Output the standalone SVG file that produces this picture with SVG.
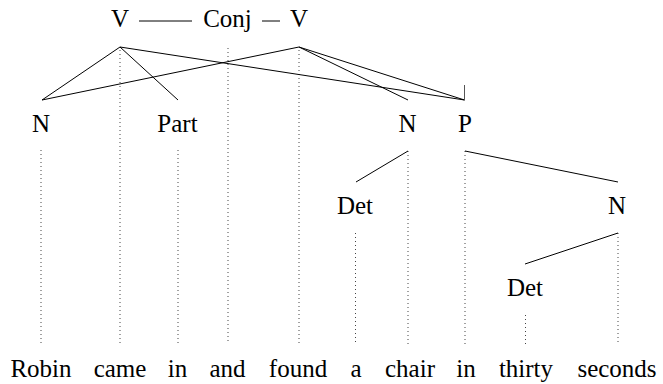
<svg xmlns="http://www.w3.org/2000/svg" width="663" height="384" viewBox="0 0 663 384">
<rect width="663" height="384" fill="#fff"/>
<g id="guides" stroke="#444" stroke-width="1" stroke-dasharray="1 3" fill="none">
<line x1="41" y1="150" x2="41" y2="344"/>
<line x1="120" y1="50" x2="120" y2="344"/>
<line x1="178" y1="150" x2="178" y2="344"/>
<line x1="228" y1="48" x2="228" y2="344"/>
<line x1="299" y1="50" x2="299" y2="344"/>
<line x1="355.5" y1="233" x2="355.5" y2="344"/>
<line x1="408" y1="151" x2="408" y2="344"/>
<line x1="465" y1="151" x2="465" y2="344"/>
<line x1="525.5" y1="315" x2="525.5" y2="344"/>
<line x1="618" y1="233" x2="618" y2="344"/>
</g>
<g id="connectors" stroke="#000" stroke-width="1" fill="none">
<line x1="139" y1="21" x2="192" y2="21"/>
<line x1="262" y1="21" x2="280" y2="21"/>
<line x1="120" y1="47" x2="42" y2="100"/>
<line x1="120" y1="47" x2="178" y2="100"/>
<line x1="120" y1="47" x2="464.5" y2="100"/>
<line x1="299" y1="47" x2="42" y2="100"/>
<line x1="299" y1="47" x2="408" y2="100"/>
<line x1="299" y1="47" x2="464.5" y2="100"/>
<line x1="464.5" y1="85" x2="464.5" y2="100" stroke="#555"/>
<line x1="408" y1="151" x2="356" y2="182"/>
<line x1="465" y1="151" x2="618" y2="182"/>
<line x1="618" y1="233" x2="525" y2="264"/>
</g>
<g id="node-V1"><text font-family="Liberation Serif" font-size="25" text-anchor="middle" x="120" y="27">V</text></g>
<g id="node-Conj"><text font-family="Liberation Serif" font-size="25" text-anchor="middle" x="227.5" y="27">Conj</text></g>
<g id="node-V2"><text font-family="Liberation Serif" font-size="25" text-anchor="middle" x="299" y="27">V</text></g>
<g id="node-N1"><text font-family="Liberation Serif" font-size="25" text-anchor="middle" x="41" y="132">N</text></g>
<g id="node-Part"><text font-family="Liberation Serif" font-size="25" text-anchor="middle" x="177.5" y="132">Part</text></g>
<g id="node-N2"><text font-family="Liberation Serif" font-size="25" text-anchor="middle" x="407.5" y="132">N</text></g>
<g id="node-P"><text font-family="Liberation Serif" font-size="25" text-anchor="middle" x="465" y="132">P</text></g>
<g id="node-Det1"><text font-family="Liberation Serif" font-size="25" text-anchor="middle" x="355" y="214">Det</text></g>
<g id="node-N3"><text font-family="Liberation Serif" font-size="25" text-anchor="middle" x="617" y="214">N</text></g>
<g id="node-Det2"><text font-family="Liberation Serif" font-size="25" text-anchor="middle" x="525" y="296">Det</text></g>
<g id="words">
<text font-family="Liberation Serif" font-size="25" text-anchor="middle" x="41" y="377">Robin</text>
<text font-family="Liberation Serif" font-size="25" text-anchor="middle" x="120" y="377">came</text>
<text font-family="Liberation Serif" font-size="25" text-anchor="middle" x="177.5" y="377">in</text>
<text font-family="Liberation Serif" font-size="25" text-anchor="middle" x="227.5" y="377">and</text>
<text font-family="Liberation Serif" font-size="25" text-anchor="middle" x="298" y="377">found</text>
<text font-family="Liberation Serif" font-size="25" text-anchor="middle" x="356" y="377">a</text>
<text font-family="Liberation Serif" font-size="25" text-anchor="middle" x="410" y="377">chair</text>
<text font-family="Liberation Serif" font-size="25" text-anchor="middle" x="466" y="377">in</text>
<text font-family="Liberation Serif" font-size="25" text-anchor="middle" x="526" y="377">thirty</text>
<text font-family="Liberation Serif" font-size="25" text-anchor="middle" x="617" y="377">seconds</text>
</g>
</svg>
